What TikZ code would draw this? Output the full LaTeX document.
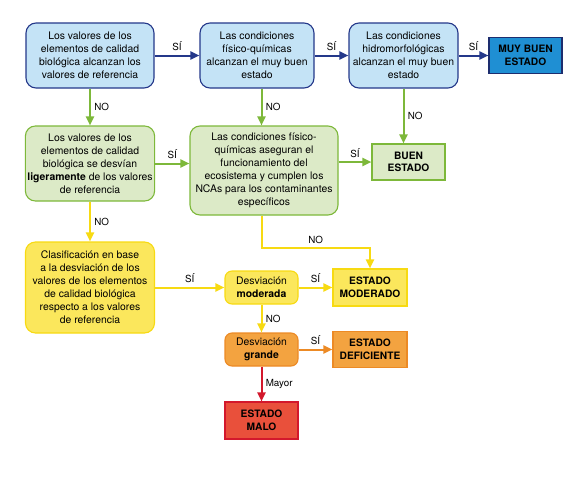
\documentclass[tikz,border=0pt]{standalone}
\usepackage{fontspec}
\setmainfont{TeX Gyre Heros}
\usepackage{xcolor}
\usetikzlibrary{arrows.meta}

\definecolor{bluefill}{HTML}{C4E3F6}
\definecolor{blueline}{HTML}{24388A}
\definecolor{bluedark}{HTML}{1F8FD3}
\definecolor{greenfill}{HTML}{DCEAC7}
\definecolor{greenline}{HTML}{7DB83A}
\definecolor{yellowfill}{HTML}{FBE75C}
\definecolor{yellowline}{HTML}{F7DA12}
\definecolor{orangefill}{HTML}{F3A340}
\definecolor{orangeline}{HTML}{EC8A25}
\definecolor{redfill}{HTML}{E9503B}
\definecolor{redline}{HTML}{D3182C}

\tikzset{
	cond/.style={rounded corners=10pt, line width=1.1pt, align=center, inner sep=2pt,
		font=\fontsize{10.4}{13}\selectfont},
	small/.style={cond, rounded corners=7pt, minimum width=73pt, minimum height=33pt},
	result/.style={rectangle, line width=1.1pt, align=center, minimum width=74pt,
		minimum height=36pt, font=\fontsize{10.2}{12.5}\selectfont\bfseries},
	lab/.style={font=\fontsize{9.8}{11}\selectfont, text=black},
	flow/.style={line width=2pt, -{Triangle[length=9pt,width=8pt]}},
}

\begin{document}
\begin{tikzpicture}[x=1pt,y=-1pt]
	\useasboundingbox (0,0) rectangle (581,480);
	%
	%  CONDITIONS
	%
	\node[cond, fill=bluefill, draw=blueline, minimum width=128pt, minimum height=65pt] (a) at (90,55.5)
		{Los valores de los\\elementos de calidad\\biológica alcanzan los\\valores de referencia};
	\node[cond, fill=bluefill, draw=blueline, minimum width=114pt, minimum height=65pt] (b) at (257,55.5)
		{Las condiciones\\físico-químicas\\alcanzan el muy buen\\estado};
	\node[cond, fill=bluefill, draw=blueline, minimum width=109pt, minimum height=65pt] (c) at (403.5,55.5)
		{Las condiciones\\hidromorfológicas\\alcanzan el muy buen\\estado};
	\node[cond, fill=greenfill, draw=greenline, minimum width=128pt, minimum height=75pt] (d) at (90,163.5)
		{Los valores de los\\elementos de calidad\\biológica se desvían\\\textbf{ligeramente} de los valores\\de referencia};
	\node[cond, fill=greenfill, draw=greenline, minimum width=148pt, minimum height=89pt] (e) at (264,170.5)
		{Las condiciones físico-\\químicas aseguran el\\funcionamiento del\\ecosistema y cumplen los\\NCAs para los contaminantes\\específicos};
	\node[cond, fill=yellowfill, draw=yellowline, minimum width=129pt, minimum height=91pt] (f) at (90,287.5)
		{Clasificación en base\\a la desviación de los\\valores de los elementos\\de calidad biológica\\respecto a los valores\\de referencia};
	\node[small, fill=yellowfill, draw=yellowline] (m) at (261.5,287.5)
		{Desviación\\\textbf{moderada}};
	\node[small, fill=orangefill, draw=orangeline] (g) at (261.5,349.5)
		{Desviación\\\textbf{grande}};
	%
	%  RESULTS
	%
	\node[result, fill=bluedark, draw=blueline!80!black, minimum width=73pt] (mb) at (525.5,55.5) {MUY BUEN\\ESTADO};
	\node[result, fill=greenfill, draw=greenline, minimum width=73pt] (be) at (408.5,162) {BUEN\\ESTADO};
	\node[result, fill=yellowfill, draw=yellowline, minimum height=37pt] (em) at (370,287.5) {ESTADO\\MODERADO};
	\node[result, fill=orangefill, draw=orangeline] (ed) at (370,349.5) {ESTADO\\DEFICIENTE};
	\node[result, fill=redfill, draw=redline, minimum width=73pt, minimum height=37pt] (ma) at (261.5,420.5) {ESTADO\\MALO};
	\coordinate (bend) at (370,248);
	%
	%  ARROWS
	%
	\path[flow, blueline]
	(a) edge node[lab,above]{SÍ} (b)
	(b) edge node[lab,above]{SÍ} (c)
	(c) edge node[lab,above]{SÍ} (mb);
	\path[flow, greenline]
	(a) edge node[lab,right]{NO} (d)
	(b.south -| m) edge node[lab,right]{NO} (e.north -| m)
	(c) edge node[lab,right]{NO} (c |- be.north)
	(d) edge node[lab,above]{SÍ} (d -| e.west)
	(e.east |- be) edge node[lab,above]{SÍ} (be);
	\path[flow, yellowline]
	(d) edge node[lab,right]{NO} (f)
	(f) edge node[lab,above]{SÍ} (m)
	(m) edge node[lab,above]{SÍ} (em)
	(m) edge node[lab,right]{NO} (g);
	\draw[flow, yellowline] (e.south -| m) |- node[lab,above,pos=0.75]{NO} (bend) -- (em);
	\path[flow, orangeline]
	(g) edge node[lab,above]{SÍ} (ed);
	\path[flow, redline]
	(g) edge node[lab,right]{Mayor} (ma);
\end{tikzpicture}
\end{document}
